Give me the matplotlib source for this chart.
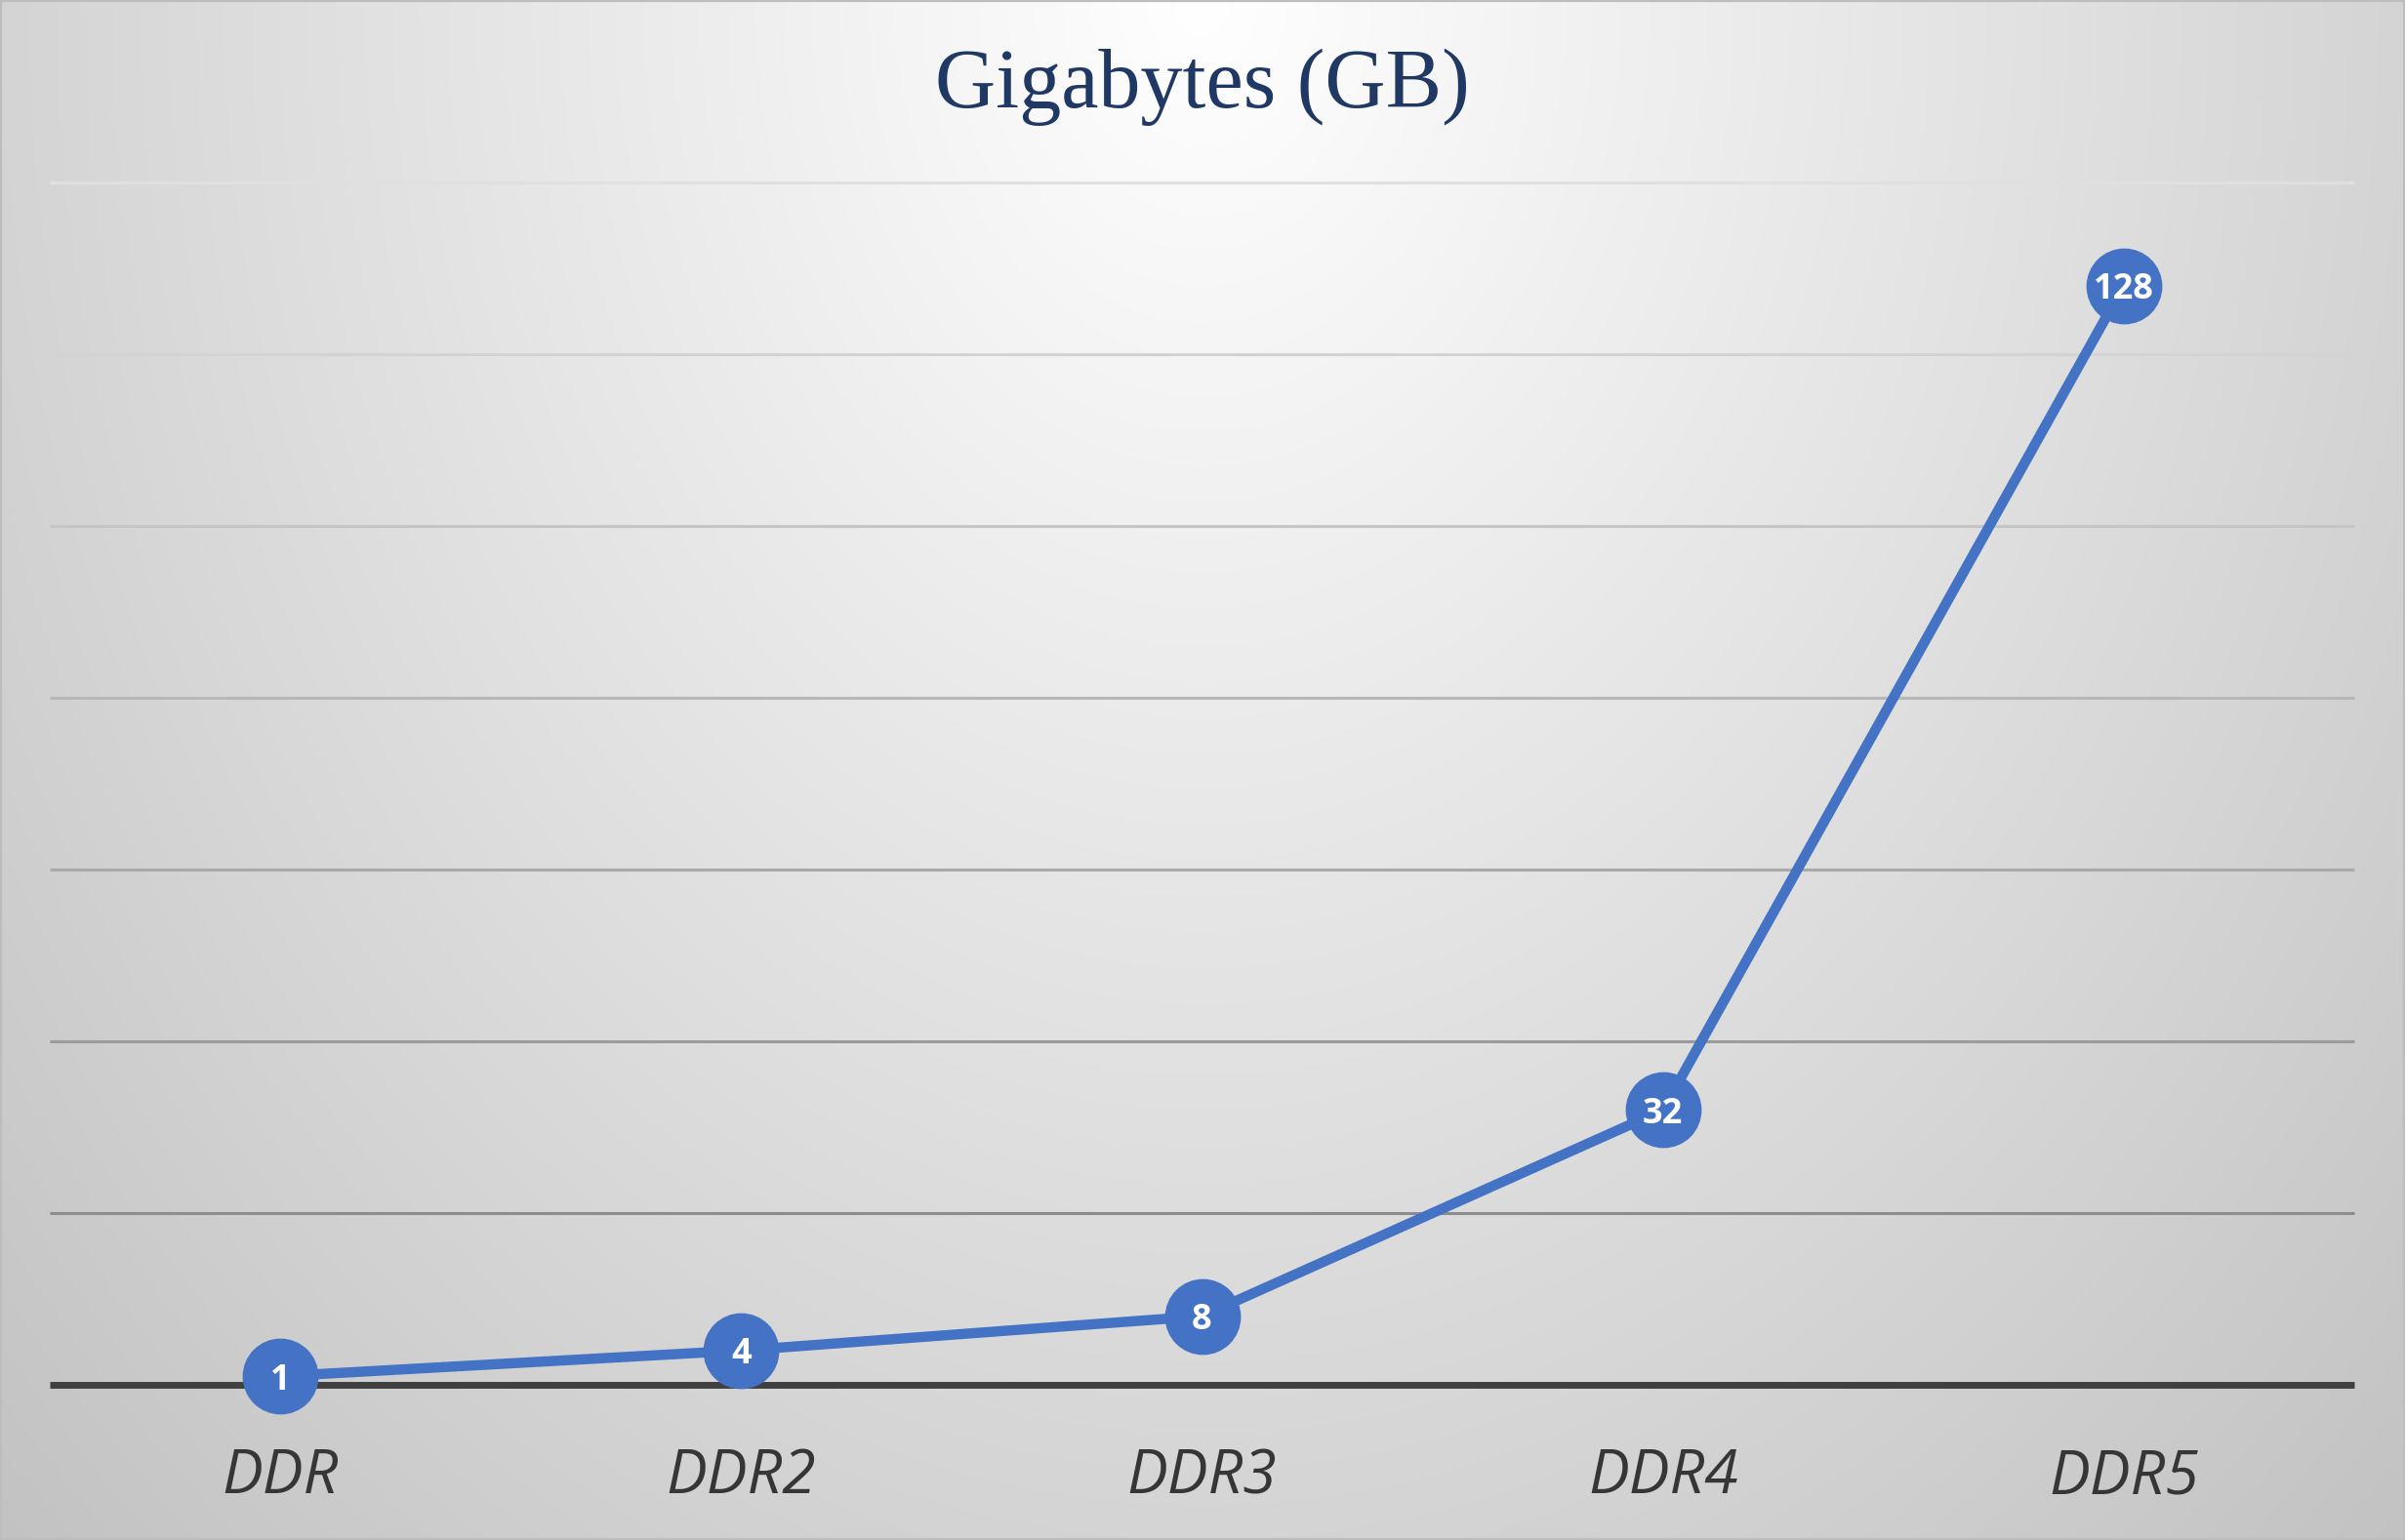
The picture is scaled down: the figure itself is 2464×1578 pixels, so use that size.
import numpy as np
import matplotlib
matplotlib.use("Agg")
import matplotlib.pyplot as plt
from matplotlib.patches import Rectangle

# ---- data ----
categories = ["DDR", "DDR2", "DDR3", "DDR4", "DDR5"]
gigabytes = [1, 4, 8, 32, 128]
title_text = "Gigabytes (GB)"
y_max = 140
y_step = 20

W, H, DPI = 2464, 1578, 100
fig = plt.figure(figsize=(W / DPI, H / DPI), dpi=DPI)

# background radial gradient (white at top centre -> gray at edges)
bg = fig.add_axes([0, 0, 1, 1], zorder=-10)
yy, xx = np.mgrid[0:H, 0:W]
r = np.sqrt(((xx - W / 2) / (W / 2)) ** 2 + (yy / H) ** 2)
g = np.clip(255 - 43 * r, 0, 255) / 255.0
bg.imshow(np.dstack([g, g, g]), aspect="auto", extent=[0, 1, 0, 1], origin="upper")
bg.set_xlim(0, 1)
bg.set_ylim(0, 1)
bg.axis("off")
fig.patches.append(Rectangle((0, 0), 1, 1, transform=fig.transFigure, fill=False,
                             edgecolor="#bdbdbd", linewidth=3, zorder=10))

left, right = 51 / W, 2412 / W
bottom, top = 1 - 1419 / H, 1 - 187 / H
ax = fig.add_axes([left, bottom, right - left, top - bottom])
ax.patch.set_alpha(0)
ax.set_xlim(-0.5, len(categories) - 0.5)
ax.set_ylim(0, y_max)

# gridlines, darker toward the bottom
levels = np.arange(y_step, y_max + 1, y_step)
for lv in levels:
    t = lv / y_max
    c = 0.50 + 0.38 * t
    ax.axhline(lv, color=(c, c, c), linewidth=2.2, zorder=1, clip_on=False,
               solid_capstyle="butt")
ax.axhline(0, color="#404040", linewidth=5, zorder=2, clip_on=False,
           solid_capstyle="butt")

x = np.arange(len(categories))
ax.plot(x, gigabytes, color="#4472C4", linewidth=7.5, marker="o", markersize=55,
        markerfacecolor="#4472C4", markeredgecolor="#4472C4", zorder=5, clip_on=False,
        solid_capstyle="round")
for xi, v in zip(x, gigabytes):
    ax.text(xi, v, str(v), ha="center", va="center_baseline", color="white",
            fontsize=26, fontweight="bold", family="Open Sans", zorder=6)

for s in ax.spines.values():
    s.set_visible(False)
ax.set_yticks([])
ax.set_xticks(x)
ax.set_xticklabels(categories, fontsize=45, style="italic", family="Open Sans",
                   color="#363636")
ax.tick_params(axis="x", length=0, pad=46)

fig.text(0.5, 1 - 110 / H, title_text, ha="center", va="baseline",
         fontsize=62, family="Liberation Serif", color="#203864")

fig.savefig("out.png", dpi=DPI)
